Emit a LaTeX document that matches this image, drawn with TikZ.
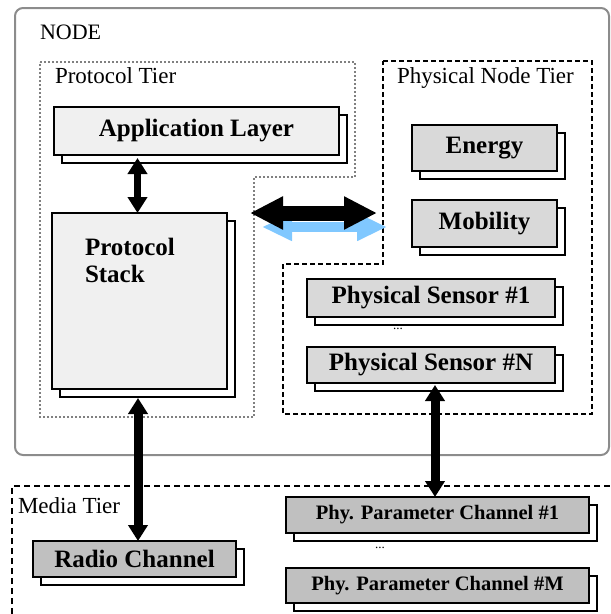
\documentclass[tikz,border=0pt]{standalone}
\usepackage{fontspec}
\setmainfont{Liberation Serif}
\usetikzlibrary{arrows.meta,shadows}
\definecolor{paleg}{HTML}{F0F0F0}
\definecolor{midg}{HTML}{D9D9D9}
\definecolor{darkg}{HTML}{C0C0C0}
\definecolor{skyarrow}{HTML}{80C8FF}
\begin{document}
\begin{tikzpicture}[x=1pt, y=-1pt]
\tikzset{ inner sep=0pt, outer sep=0pt,
  layer/.style={draw, line width=1.3pt, fill=#1,
    general shadow={fill=white, draw=black, line width=1.3pt, shadow xshift=8pt, shadow yshift=-8pt},
    font=\fontsize{25}{27}\selectfont\bfseries},
  tier/.style={anchor=base west, font=\fontsize{23}{25}\selectfont},
  dbl/.style={line width=7pt, {Triangle[width=19pt,length=16pt]}-{Triangle[width=19pt,length=16pt]}},
}

\useasboundingbox (0,0) rectangle (611,614);

%\draw [lightgray, dashed](0,0) grid (611,614);

% tiers
\draw [gray!90, line width=2pt, rounded corners=8pt] (15,8) rectangle (609,455);
\draw [gray, line width=2.2pt, dash pattern=on 2pt off 2pt]
  (40,62) -- (355,62) -- (355,177) -- (254,177) -- (254,417) -- (40,417) -- cycle;
\draw [line width=1.5pt, dash pattern=on 5pt off 3pt]
  (383,61) -- (592,61) -- (592,414) -- (283,414) -- (283,264) -- (383,264) -- cycle;
\draw [line width=1.5pt, dash pattern=on 6pt off 4pt] (12,614) -- (12,486) -- (611,486);

\node [tier, font=\fontsize{22}{24}\selectfont] (nodelbl) at (40,39) {NODE};
\node [tier] (protlbl)  at (55,83)  {Protocol Tier};
\node [tier] (physlbl)  at (397,83) {Physical Node Tier};
\node [tier] (medialbl) at (18,513) {Media Tier};

% boxes
\node [layer=paleg, minimum width=285pt, minimum height=48pt]  (app)    at (196.5,131) {Application Layer};
\node [layer=paleg, minimum width=175pt, minimum height=176pt] (stack)  at (139.5,301) {};
\node [anchor=base west, align=left, font=\fontsize{25}{27}\selectfont\bfseries] (stacklbl)
  at ([xshift=33pt, yshift=-69pt]stack.north west) {Protocol\\Stack};

\node [layer=midg, minimum width=145pt, minimum height=46pt] (energy)   at (484.5,148)   {Energy};
\node [layer=midg, minimum width=145pt, minimum height=47pt] (mobility) at (484.5,223.5) {Mobility};
\node [layer=midg, minimum width=248pt, minimum height=38pt] (sens1)    at (431,298)     {Physical Sensor \#1};
\node [layer=midg, minimum width=248pt, minimum height=36pt] (sensN)    at (431,365)     {Physical Sensor \#N};
\node [font=\fontsize{13}{14}\selectfont] (dots1) at (398,329) {...};

\node [layer=darkg, minimum width=203pt, minimum height=36pt] (radio) at (134.5,559) {Radio Channel};
\node [layer=darkg, minimum width=303pt, minimum height=36pt, font=\fontsize{20.5}{22}\selectfont\bfseries] (phy1) at (437.5,515) {Phy. Parameter Channel \#1};
\node [layer=darkg, minimum width=303pt, minimum height=35pt, font=\fontsize{20.5}{22}\selectfont\bfseries] (phyM) at (437.5,585.5) {Phy. Parameter Channel \#M};
\node [font=\fontsize{13}{14}\selectfont] (dots2) at (380,548) {...};

% arrows
\coordinate (bL) at (262,227);
\coordinate (bR) at (387,227);
\coordinate (pL) at (250,213);
\coordinate (pR) at (377,213);
\draw [skyarrow, line width=10pt, {Triangle[width=26pt,length=30pt]}-{Triangle[width=26pt,length=30pt]}] (bL) -- (bR);
\draw [line width=15pt, {Triangle[width=31pt,length=33pt]}-{Triangle[width=31pt,length=33pt]}] (pL) -- (pR);

\draw [dbl] ([xshift=-2pt, yshift=-3pt]app.south -| stack.north) -- ([xshift=-2pt]stack.north);
\draw [dbl, line width=9pt] ([xshift=-1.5pt, yshift=-9pt]stack.south) -- ([xshift=3.5pt]radio.north);
\draw [dbl, line width=9pt] ([xshift=4pt, yshift=-2pt]sensN.south) -- ([xshift=-2.5pt]phy1.north);
\end{tikzpicture}
\end{document}
